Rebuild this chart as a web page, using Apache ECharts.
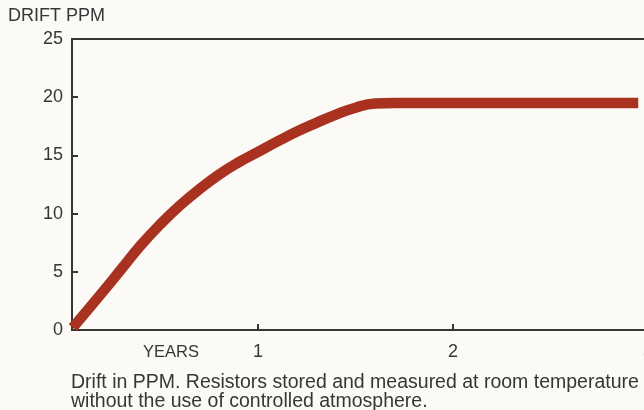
<!DOCTYPE html>
<html>
<head>
<meta charset="utf-8">
<script src="https://cdn.jsdelivr.net/npm/echarts@6/dist/echarts.min.js"></script>
<style>
  html, body { margin: 0; padding: 0; background: #fbfaf6; overflow: hidden; }
  /* the plot runs on past the right edge of the page, as on the printed sheet */
  #chart { width: 664px; height: 410px; }
</style>
</head>
<body>
<div id="chart"></div>
<script>
// Resistor drift over storage time (years vs. PPM)
const years = [0.05, 0.2, 0.3, 0.4, 0.5, 0.6, 0.7, 0.8, 0.9, 1.0, 1.1, 1.2, 1.3, 1.4, 1.5, 1.6, 1.7, 1.8, 2.0, 2.5, 2.95];
const driftPpm = [0.2, 3.2, 5.25, 7.3, 9.1, 10.7, 12.1, 13.35, 14.4, 15.3, 16.2, 17.05, 17.8, 18.5, 19.1, 19.45, 19.5, 19.5, 19.5, 19.5, 19.5];
const yearTicks = [1, 2, 3];
const ppmTicks = [0, 5, 10, 15, 20, 25];

const ink = '#363636';
const font = '"Liberation Sans", Arial, sans-serif';

const chart = echarts.init(document.getElementById('chart'), null, { renderer: 'canvas' });
chart.setOption({
  backgroundColor: '#fbfaf6',
  animation: false,
  grid: {
    left: 72, right: 16, top: 39, bottom: 80,
    show: true, borderColor: ink, borderWidth: 2, backgroundColor: 'transparent'
  },
  xAxis: {
    type: 'value',
    min: 0.046, max: 3,
    axisLine: { show: true, lineStyle: { color: ink, width: 2 } },
    axisTick: { show: true, inside: true, length: 6, customValues: yearTicks, lineStyle: { color: ink, width: 2 } },
    axisLabel: { customValues: yearTicks, color: ink, fontFamily: font, fontSize: 18, margin: 13 },
    splitLine: { show: false }
  },
  yAxis: {
    type: 'value',
    min: 0, max: 25,
    axisLine: { show: true, lineStyle: { color: ink, width: 2 } },
    axisTick: { show: true, inside: true, length: 6, customValues: ppmTicks, lineStyle: { color: ink, width: 2 } },
    axisLabel: { customValues: ppmTicks, color: ink, fontFamily: font, fontSize: 18, margin: 9 },
    splitLine: { show: false }
  },
  series: [{
    type: 'line',
    data: years.map((x, i) => [x, driftPpm[i]]),
    smooth: true,
    showSymbol: false,
    clip: true,
    lineStyle: { color: '#a8321f', width: 10.5, cap: 'butt', join: 'round' }
  }],
  graphic: [
    { type: 'text', style: { x: 8, y: 16, text: 'DRIFT PPM', fill: ink, font: '18px ' + font, verticalAlign: 'middle' } },
    { type: 'text', style: { x: 143, y: 352, text: 'YEARS', fill: ink, font: '16.5px ' + font, verticalAlign: 'middle' } },
    { type: 'text', style: { x: 71, y: 383, text: 'Drift in PPM. Resistors stored and measured at room temperature', fill: ink, font: '19.5px ' + font, verticalAlign: 'middle' } },
    { type: 'text', style: { x: 71, y: 402, text: 'without the use of controlled atmosphere.', fill: ink, font: '19.5px ' + font, verticalAlign: 'middle' } }
  ]
});
</script>
</body>
</html>
